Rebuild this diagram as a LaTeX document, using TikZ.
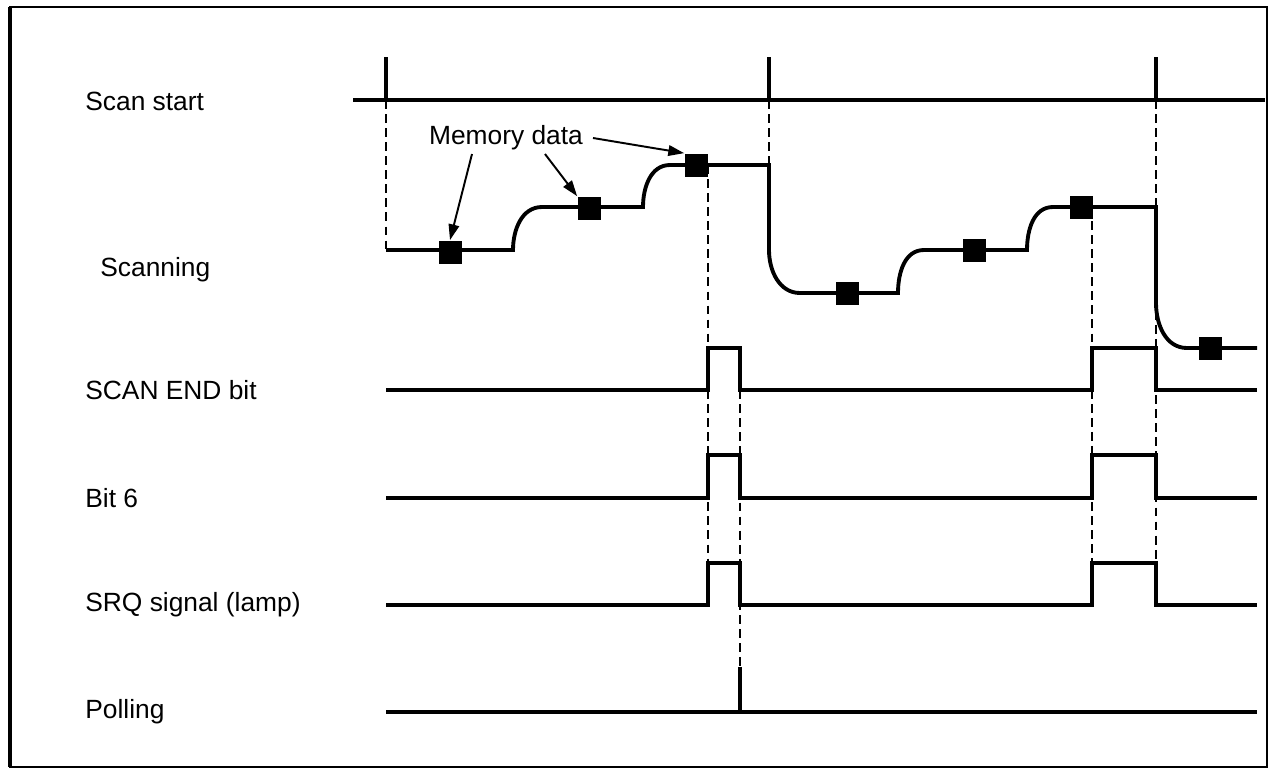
\documentclass[tikz,border=0pt]{standalone}
\usepackage{fontspec}
\setmainfont{Liberation Sans}
\usepackage{tikz}
\usetikzlibrary{arrows.meta}

\begin{document}
\begin{tikzpicture}[x=0.02cm, y=-0.02cm,
  every node/.style={font=\fontsize{15}{18}\selectfont},
  lbl/.style={anchor=west, inner sep=0pt},
  sig/.style={line width=2.2pt, line join=miter},
  guide/.style={line width=1.1pt, dash pattern=on 5pt off 3pt},
  sample/.style={fill=black, minimum size=0.46cm, inner sep=0pt},
  ptr/.style={line width=1.1pt, -{Triangle[length=9pt,width=6pt]}}]
\useasboundingbox (0,0) rectangle (1271,769);
\draw [line width=0.8pt] (10,7) rectangle (1267,767);
\draw [line width=2pt] (10,7) -- (10,767);

% labels
\node (start) [lbl] at (85,101) {Scan start};
\node (scanning) [lbl] at (100,270) {Scanning};
\node (scanend) [lbl] at (85,390) {SCAN END bit};
\node (bitsix) [lbl] at (85,498) {Bit 6};
\node (srq) [lbl] at (85,605) {SRQ signal (lamp)};
\node (polling) [lbl] at (85,712) {Polling};

% guide lines
\draw [guide] (386,100) -- (386,250);
\draw [guide] (769,100) -- (769,165);
\draw [guide] (1156,100) -- (1156,605);
\draw [guide] (708,165) -- (708,563);
\draw [guide] (740,348) -- (740,667);
\draw [guide] (1092,207) -- (1092,563);

% scan start
\draw [sig] (353,100) -- (1265,100);
\foreach \t in {386,769,1156}
  \draw [sig] (\t,57) -- (\t,100);

% scanning
\draw [sig] (386,250) -- (513,250) to[out=90,in=180] (542,207) -- (643,207)
  to[out=90,in=180] (670,165) -- (769,165) -- (769,250) to[out=-90,in=180] (800,293)
  -- (898,293) to[out=90,in=180] (924,250) -- (1027,250) to[out=90,in=180] (1053,207)
  -- (1156,207) -- (1156,303) to[out=-90,in=180] (1187,348) -- (1257,348);
\node (d1) [sample] at (450,252) {};
\node (d2) [sample] at (589,208) {};
\node (d3) [sample] at (696,165) {};
\node (d4) [sample] at (847,293) {};
\node (d5) [sample] at (974,250) {};
\node (d6) [sample] at (1081,207) {};
\node (d7) [sample] at (1210,348) {};

% memory data pointers
\node (mem) at (506,138) {Memory data};
\coordinate (m1) at (472,154);
\coordinate (m2) at (545,154);
\coordinate (m3) at (593,138);
\draw [ptr] (m1) -- (d1.north);
\draw [ptr] (m2) -- (d2.north west);
\draw [ptr] (m3) -- (d3.north west);

% pulses
\foreach \hi/\lo in {348/390, 455/498, 563/605}
  \draw [sig] (386,\lo) -- (708,\lo) -- (708,\hi) -- (740,\hi) -- (740,\lo)
    -- (1092,\lo) -- (1092,\hi) -- (1156,\hi) -- (1156,\lo) -- (1257,\lo);

% polling
\draw [sig] (386,712) -- (1257,712);
\draw [sig] (740,667) -- (740,712);
\end{tikzpicture}
\end{document}
